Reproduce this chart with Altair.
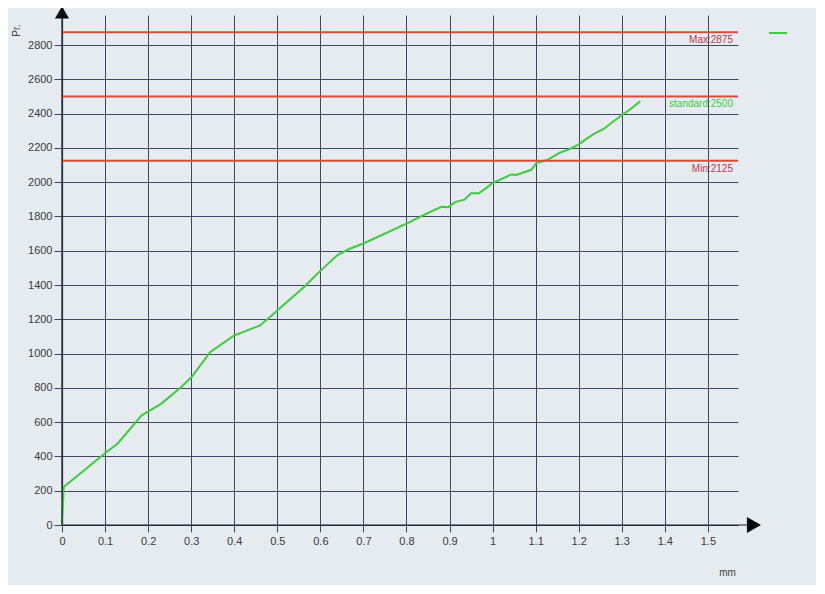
import altair as alt
import pandas as pd

# ---- data ----
curve_x = [0, 0.004, 0.1, 0.13, 0.185, 0.231, 0.277, 0.301, 0.344, 0.399, 0.46, 0.5,
           0.562, 0.598, 0.64, 0.667, 0.7, 0.8, 0.842, 0.881, 0.897, 0.914, 0.935,
           0.95, 0.968, 0.985, 1.0, 1.044, 1.055, 1.07, 1.09, 1.102, 1.128, 1.155,
           1.18, 1.2, 1.234, 1.258, 1.281, 1.3, 1.32, 1.343]
curve_y = [0, 222, 419, 477, 640, 708, 805, 863, 1008, 1105, 1164, 1251,
           1388, 1478, 1575, 1610, 1642, 1758, 1810, 1856, 1854, 1885, 1898,
           1935, 1935, 1965, 1995, 2045, 2042, 2055, 2072, 2112, 2130, 2170,
           2194, 2220, 2280, 2310, 2355, 2390, 2425, 2472]

limit_values = [2875, 2500, 2125]
limit_labels = ["Max:2875", "standard:2500", "Min:2125"]
limit_label_colors = ["#c3344f", "#3ccc3c", "#c3344f"]

x_ticks = [0, 0.1, 0.2, 0.3, 0.4, 0.5, 0.6, 0.7, 0.8, 0.9, 1.0, 1.1, 1.2, 1.3, 1.4, 1.5]
y_ticks = [0, 200, 400, 600, 800, 1000, 1200, 1400, 1600, 1800, 2000, 2200, 2400, 2600, 2800]

x_domain = [0, 1.57]
y_domain = [0, 2975]
x_arrow = 1.607
y_arrow = 2990

GREEN = "#3ccc3c"
RED = "#dc4b36"
GRID = "#3d4866"

W, H = 676, 510

curve_df = pd.DataFrame({"x": curve_x, "y": curve_y, "series": ["Pr"] * len(curve_x)})
limits_df = pd.DataFrame({"value": limit_values, "label": limit_labels,
                          "lc": limit_label_colors, "xpos": [x_domain[1]] * 3})
xarrow_df = pd.DataFrame({"x0": [0], "x1": [x_arrow], "y": [0]})
yarrow_df = pd.DataFrame({"x": [0], "y0": [0], "y1": [y_arrow]})

xscale = alt.Scale(domain=x_domain, nice=False, zero=False)
yscale = alt.Scale(domain=y_domain, nice=False, zero=False)

xaxis = alt.Axis(values=x_ticks, format="~g", title="mm", tickSize=7, labelPadding=3,
                 labelFlush=False, labelOverlap=False,
                 titleX=665, titleY=47, titleAlign="center", titleBaseline="middle",
                 titleFontSize=10, titleFontWeight="normal")
yaxis = alt.Axis(values=y_ticks, format="d", title="Pr.", tickSize=8, labelPadding=2,
                 labelFlush=False, labelOverlap=False,
                 titleX=-46, titleY=9, titleAngle=270, titleAlign="right",
                 titleBaseline="middle", titleFontSize=10, titleFontWeight="normal")

line = alt.Chart(curve_df).mark_line(strokeWidth=2).encode(
    x=alt.X("x:Q", scale=xscale, axis=xaxis),
    y=alt.Y("y:Q", scale=yscale, axis=yaxis),
    color=alt.Color("series:N", scale=alt.Scale(range=[GREEN]),
                    legend=alt.Legend(title=None, orient="none", legendX=706, legendY=8,
                                      symbolType="stroke", symbolSize=324,
                                      symbolStrokeWidth=2, labelExpr="''",
                                      symbolStrokeColor=GREEN)),
)

rules = alt.Chart(limits_df).mark_rule(color=RED, strokeWidth=2).encode(
    y=alt.Y("value:Q", scale=yscale, axis=yaxis)
)

labels = alt.Chart(limits_df).mark_text(
    align="right", baseline="top", dx=-5, dy=3, fontSize=10, font="Liberation Sans"
).encode(
    x=alt.X("xpos:Q", scale=xscale, axis=xaxis),
    y=alt.Y("value:Q", scale=yscale, axis=yaxis),
    text="label:N",
    color=alt.Color("lc:N", scale=None),
)

x_ext = alt.Chart(xarrow_df).mark_rule(color="#1c2030", strokeWidth=1.2, clip=False).encode(
    x=alt.X("x0:Q", scale=xscale, axis=xaxis), x2="x1:Q",
    y=alt.Y("y:Q", scale=yscale, axis=yaxis)
)
x_head = alt.Chart(xarrow_df).mark_point(shape="triangle-right", filled=True, size=260,
                                         color="#0a0a0a", opacity=1, clip=False).encode(
    x=alt.X("x1:Q", scale=xscale, axis=xaxis), y=alt.Y("y:Q", scale=yscale, axis=yaxis)
)
y_ext = alt.Chart(yarrow_df).mark_rule(color="#1c2030", strokeWidth=1.2, clip=False).encode(
    x=alt.X("x:Q", scale=xscale, axis=xaxis),
    y=alt.Y("y0:Q", scale=yscale, axis=yaxis), y2="y1:Q"
)
y_head = alt.Chart(yarrow_df).mark_point(shape="triangle-up", filled=True, size=200,
                                         color="#0a0a0a", opacity=1, clip=False).encode(
    x=alt.X("x:Q", scale=xscale, axis=xaxis), y=alt.Y("y1:Q", scale=yscale, axis=yaxis)
)

chart = alt.layer(line, rules, labels, x_ext, y_ext, x_head, y_head).resolve_scale(
    color="independent"
).properties(
    width=W, height=H,
    background="#e5ebef",
    padding={"left": 54, "top": 7, "right": 78, "bottom": 60},
    autosize=alt.AutoSizeParams(type="none"),
).configure_axis(
    grid=True, gridColor=GRID, gridWidth=1, gridOpacity=1,
    domainColor="#2a3045", domainWidth=1.2,
    tickColor=GRID, tickWidth=1,
    labelFont="Liberation Sans", labelFontSize=11, labelColor="#3a3a3a",
    titleFont="Liberation Sans", titleColor="#444444",
).configure_view(stroke=None)

chart.save("out.html", embed_options={"renderer": "svg", "actions": False})
